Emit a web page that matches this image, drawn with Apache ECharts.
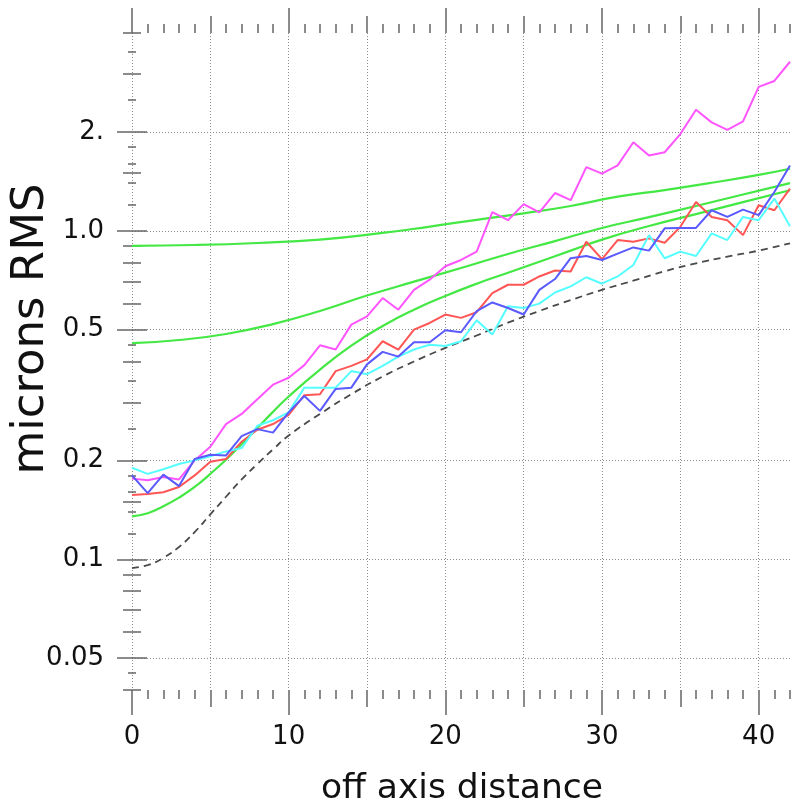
<!DOCTYPE html>
<html><head><meta charset="utf-8">
<script src="https://cdn.jsdelivr.net/npm/echarts@6/dist/echarts.min.js"></script>
<style>html,body{margin:0;padding:0;background:#fff}#c{width:805px;height:812px}</style>
</head><body><div id="c"></div>
<script>
// ---- data ----
const xInt = [0,1,2,3,4,5,6,7,8,9,10,11,12,13,14,15,16,17,18,19,20,21,22,23,24,25,26,27,28,29,30,31,32,33,34,35,36,37,38,39,40,41,42];
const magenta = [0.176,0.174,0.178,0.175,0.2,0.22,0.258,0.277,0.307,0.34,0.357,0.39,0.448,0.435,0.518,0.549,0.624,0.575,0.661,0.71,0.78,0.815,0.864,1.14,1.077,1.205,1.137,1.303,1.239,1.563,1.492,1.581,1.86,1.695,1.734,1.97,2.336,2.138,2.027,2.153,2.742,2.858,3.27];
const red = [0.157,0.158,0.16,0.166,0.18,0.198,0.202,0.228,0.248,0.258,0.275,0.316,0.318,0.374,0.388,0.406,0.461,0.435,0.5,0.524,0.556,0.543,0.565,0.646,0.685,0.685,0.726,0.757,0.752,0.926,0.82,0.937,0.926,0.948,0.92,1.028,1.224,1.102,1.077,0.97,1.196,1.155,1.344];
const blue = [0.18,0.159,0.181,0.167,0.202,0.208,0.207,0.237,0.249,0.243,0.28,0.314,0.283,0.33,0.333,0.392,0.428,0.414,0.458,0.458,0.498,0.491,0.569,0.605,0.582,0.556,0.661,0.713,0.825,0.838,0.815,0.852,0.89,0.87,1.017,1.02,1.02,1.155,1.102,1.16,1.116,1.312,1.581];
const cyan = [0.19,0.182,0.188,0.195,0.2,0.206,0.213,0.218,0.255,0.265,0.28,0.333,0.333,0.333,0.374,0.366,0.388,0.414,0.435,0.45,0.446,0.461,0.534,0.483,0.589,0.582,0.6,0.649,0.677,0.722,0.69,0.726,0.787,0.97,0.825,0.864,0.838,0.982,0.937,1.102,1.077,1.253,1.033];
const dashX = [0,1,2,3,4,5,6,7,8,9,10,12,14,16,18,20,22,24,26,28,30,32,34,36,38,40,42];
const dashY = [0.094,0.096,0.101,0.109,0.121,0.137,0.155,0.175,0.195,0.216,0.238,0.277,0.318,0.36,0.40,0.44,0.48,0.525,0.57,0.615,0.661,0.705,0.753,0.796,0.834,0.87,0.916];
const g1X = [0,4,8,12,16,19,22,25,28,31,34,37,40,42];
const g1Y = [0.90,0.905,0.918,0.94,0.985,1.03,1.08,1.13,1.19,1.27,1.33,1.40,1.48,1.545];
const g2X = [0,3,6,9,12,15,18,21,24,27,30,33,36,39,42];
const g2Y = [0.455,0.465,0.485,0.52,0.57,0.635,0.70,0.77,0.85,0.93,1.02,1.1,1.19,1.29,1.397];
const g3X = [0,1,2,3,4,5,6,7,8,9,10,12,14,16,18,20,22,24,26,28,30,33,36,39,42];
const g3Y = [0.135,0.138,0.145,0.154,0.166,0.182,0.201,0.224,0.251,0.281,0.313,0.378,0.447,0.513,0.575,0.633,0.69,0.745,0.805,0.87,0.94,1.034,1.124,1.222,1.328];

// ---- ticks / labels ----
const xTicksMinor = [0,1,2,3,4,5,6,7,8,9,10,11,12,13,14,15,16,17,18,19,20,21,22,23,24,25,26,27,28,29,30,31,32,33,34,35,36,37,38,39,40,41,42];
const xTicksMid = [0,5,10,15,20,25,30,35,40];
const xTicksMajor = [0,10,20,30,40];
const xLabels = [0,10,20,30,40];
const yTicksMajor = [0.05,0.1,0.2,0.5,1,2];
const yLabels = [0.05,0.1,0.2,0.5,1,2];
const yLabelText = ['0.05','0.1','0.2','0.5','1.0','2.'];
const yTicksMid = [0.04,0.06,0.07,0.08,0.09,0.15,0.3,0.4,0.6,0.7,0.8,0.9,1.5,3,4];
const yTicksSmall = [0.045,0.12,0.14,0.16,0.18,0.25,0.35,0.45,1.2,1.4,1.6,1.8,2.5,3.5];

const FONT = 'DejaVu Sans';
const TICK = '#666';
const GRIDC = '#8c8c8c';

function zip(xs, ys){ return xs.map((x,i)=>[x, ys[i]]); }

function xAxis(pos, ticks, len, split, labels){
  return {
    type:'value', position:pos, min:0, max:42, gridIndex:0,
    axisLine:{show:false},
    axisTick:{show:true, inside:false, length:len, customValues:ticks, lineStyle:{color:TICK,width:1.5}},
    axisLabel: labels ? {show:true, customValues:labels, margin:34, fontFamily:FONT, fontSize:26, color:'#111'} : {show:false},
    splitLine: split ? {show:true, lineStyle:{color:GRIDC, type:[1,2], width:1}} : {show:false},
    minorTick:{show:false}
  };
}
function yAxis(pos, ticks, len, split, labels){
  return {
    type:'log', logBase:10, position:pos, min:0.04, max:4, gridIndex:0,
    axisLine:{show:false},
    axisTick:{show:true, inside:false, length:len, customValues:ticks, lineStyle:{color:TICK,width:1.5}},
    axisLabel: labels ? {show:true, customValues:labels, margin:28, fontFamily:FONT, fontSize:26, color:'#111',
      formatter:function(v){ for (let i=0;i<yLabels.length;i++){ if (Math.abs(v-yLabels[i])<1e-9*Math.max(1,v)) return yLabelText[i]; } return String(v); }} : {show:false},
    splitLine: split ? {show:true, lineStyle:{color:GRIDC, type:[1,2], width:1}} : {show:false},
    minorTick:{show:false}
  };
}

function lineSeries(name, data, color, width, opts){
  return Object.assign({
    name:name, type:'line', xAxisIndex:0, yAxisIndex:0, data:data, symbol:'none',
    showSymbol:false, animation:false, silent:true,
    lineStyle:{color:color, width:width}
  }, opts||{});
}

const chart = echarts.init(document.getElementById('c'), null, {renderer:'canvas'});
chart.setOption({
  animation:false,
  backgroundColor:'#ffffff',
  grid:{left:132, right:15, top:33, bottom:122, containLabel:false, outerBoundsMode:'none'},
  xAxis:[
    xAxis('bottom', xTicksMinor, 9, false, xLabels),
    xAxis('bottom', xTicksMid, 17, true, null),
    xAxis('bottom', xTicksMajor, 25, false, null),
    xAxis('top', xTicksMinor, 9, false, null),
    xAxis('top', xTicksMid, 17, false, null),
    xAxis('top', xTicksMajor, 25, false, null)
  ],
  yAxis:[
    yAxis('left', yTicksMajor, 15, true, yLabels),
    yAxis('left', yTicksMid, 9, false, null),
    yAxis('left', yTicksSmall, 4, false, null),
    yAxis('right', yTicksMajor, 15, false, null),
    yAxis('right', yTicksMid, 9, false, null),
    yAxis('right', yTicksSmall, 4, false, null)
  ],
  graphic:[
    {type:'text', x:462, y:789, silent:true,
      style:{text:'off axis distance', fontFamily:FONT, fontSize:34.5, fill:'#111', align:'center', verticalAlign:'middle'}},
    {type:'text', x:31, y:329, rotation:Math.PI/2, silent:true,
      style:{text:'microns RMS', fontFamily:FONT, fontSize:45, fill:'#111', align:'center', verticalAlign:'middle'}}
  ],
  series:[
    lineSeries('model', zip(dashX, dashY), '#4a4a4a', 1.8, {smooth:true, lineStyle:{color:'#4a4a4a', width:1.8, type:[7,5]}}),
    lineSeries('g1', zip(g1X, g1Y), '#44e844', 2.2, {smooth:true}),
    lineSeries('g2', zip(g2X, g2Y), '#44e844', 2.2, {smooth:true}),
    lineSeries('g3', zip(g3X, g3Y), '#44e844', 2.2, {smooth:true}),
    lineSeries('magenta', zip(xInt, magenta), '#ff55ff', 2),
    lineSeries('red', zip(xInt, red), '#ff5555', 2),
    lineSeries('cyan', zip(xInt, cyan), '#55ffff', 2),
    lineSeries('blue', zip(xInt, blue), '#5a5aff', 2)
  ]
});
</script></body></html>
